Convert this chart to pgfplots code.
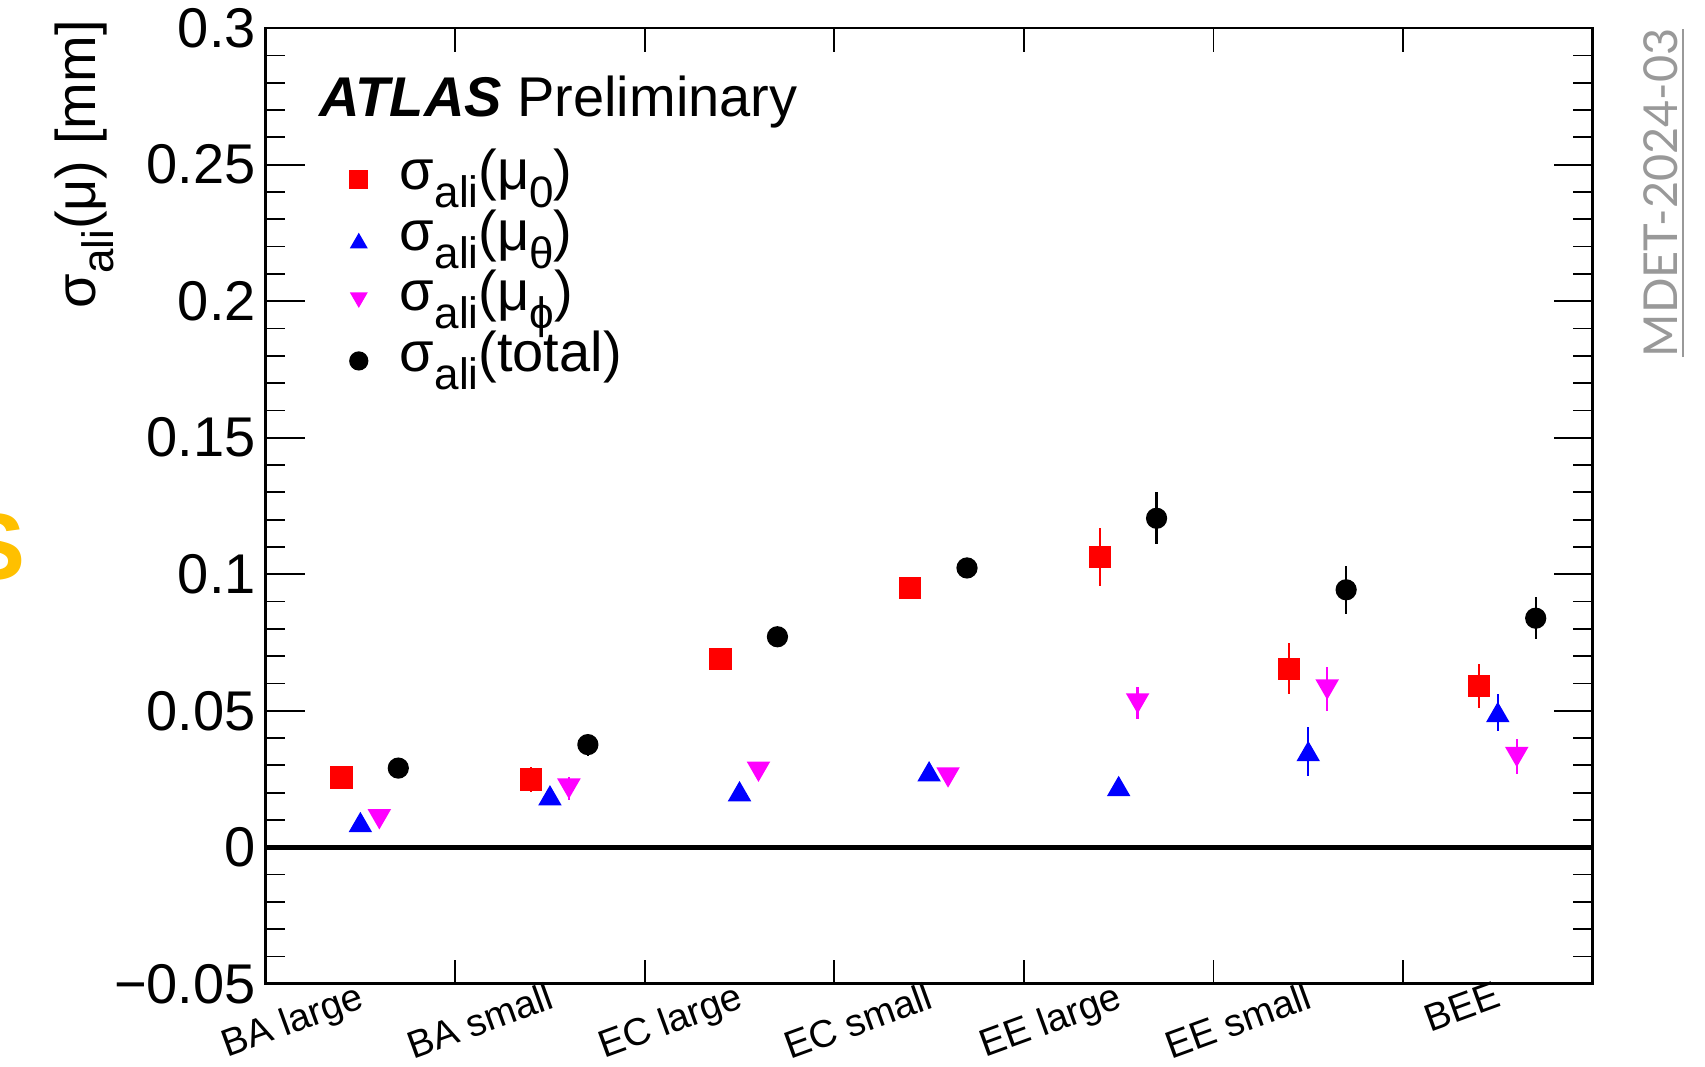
\documentclass[border=0pt]{standalone}
\usepackage{fontspec}
\setmainfont{Liberation Sans}
\newfontfamily\latofont{Lato}
\usepackage{pgfplots}
\pgfplotsset{compat=1.18}
\usepackage{pgfplotstable}
\usetikzlibrary{calc}

\definecolor{atlasyellow}{RGB}{255,192,0}
\definecolor{linkgray}{RGB}{153,153,153}
\definecolor{rootred}{RGB}{255,0,0}
\definecolor{rootblue}{RGB}{0,0,255}
\definecolor{rootmagenta}{RGB}{255,0,255}

\newcommand\sub[1]{\raisebox{-4.5pt}{\fontsize{11}{11}\selectfont #1}}

\pgfplotstableread{
x y e
0.4 0.0255 0.002
1.4 0.0248 0.0045
2.4 0.0690 0.002
3.4 0.0950 0.003
4.4 0.1063 0.0105
5.4 0.0654 0.0094
6.4 0.0591 0.0082
}\dataA
\pgfplotstableread{
x y e
0.5 0.0091 0.001
1.5 0.0189 0.002
2.5 0.0204 0.002
3.5 0.0277 0.002
4.5 0.0223 0.003
5.5 0.0351 0.009
6.5 0.0494 0.0068
}\dataB
\pgfplotstableread{
x y e
0.6 0.0104 0.002
1.6 0.0216 0.0043
2.6 0.0278 0.003
3.6 0.0257 0.002
4.6 0.0528 0.006
5.6 0.0579 0.008
6.6 0.0332 0.0063
}\dataC
\pgfplotstableread{
x y e
0.7 0.0290 0.002
1.7 0.0376 0.004
2.7 0.0771 0.003
3.7 0.1023 0.003
4.7 0.1205 0.0096
5.7 0.0943 0.0088
6.7 0.0839 0.0076
}\dataD

\begin{document}
\begin{tikzpicture}
\begin{axis}[
  scale only axis, width=331.75pt, height=238.9pt,
  xmin=0, xmax=7, ymin=-0.05, ymax=0.3,
  clip mode=individual,
  axis line style={line width=0.65pt},
  tick align=inside, tick pos=both,
  every tick/.style={black, line width=0.45pt},
  major tick length=9.75pt, minor tick length=4.8pt,
  ytick={-0.05,0,0.05,0.1,0.15,0.2,0.25,0.3},
  yticklabels={−0.05,0,0.05,0.1,0.15,0.2,0.25,0.3},
  minor y tick num=4,
  yticklabel style={font=\fontsize{14}{14}\selectfont, inner sep=0pt, xshift=-2.25pt},
  xtick=\empty,
  extra x ticks={1,2,3,4,5,6,7},
  extra x tick labels={BA large,BA small,EC large,EC small,EE large,EE small,BEE},
  extra x tick style={major tick length=6pt,
     xticklabel style={font=\fontsize{9.6}{9.6}\selectfont, inner sep=0pt,
       xshift=-24.6pt, yshift=0.9pt, rotate=20, anchor=north east}},
  ylabel={σ\sub{ali}(μ) [mm]},
  ylabel style={font=\fontsize{14}{14}\selectfont, at={(rel axis cs:-0.1285,1.009)}, anchor=base east, inner sep=0pt},
  legend style={at={(rel axis cs:0.0636,0.873)}, anchor=north west, draw=none, fill=none,
     inner sep=0pt, outer sep=0pt, row sep=0pt, column sep=8.1pt,
     font=\fontsize{14}{14}\selectfont,
     nodes={inner sep=0pt, text height=10.1pt, text depth=5pt}},
  legend cell align=left,
  legend image code/.code={\draw[#1, mark size=2.2pt] plot coordinates {(0pt,0pt)};},
]
\addplot[only marks, mark=square*, mark size=2.6pt, color=rootred,
  error bars/.cd, y dir=both, y explicit, error mark=none,
  error bar style={line width=0.6pt, rootred}]
  table[x=x, y=y, y error=e] {\dataA};
\addlegendentry{σ\sub{ali}(μ\sub{0})}
\addplot[only marks, mark=triangle*, mark size=3pt, color=rootblue, mark options={yshift=-0.75pt},
  error bars/.cd, y dir=both, y explicit, error mark=none,
  error bar style={line width=0.6pt, rootblue}]
  table[x=x, y=y, y error=e] {\dataB};
\addlegendentry{σ\sub{ali}(μ\sub{θ})}
\addplot[only marks, mark=triangle*, mark size=3pt, color=rootmagenta, mark options={yshift=0.75pt, rotate=180},
  error bars/.cd, y dir=both, y explicit, error mark=none,
  error bar style={line width=0.6pt, rootmagenta}]
  table[x=x, y=y, y error=e] {\dataC};
\addlegendentry{σ\sub{ali}(μ\sub{ϕ})}
\addplot[only marks, mark=*, mark size=2.45pt, color=black,
  error bars/.cd, y dir=both, y explicit, error mark=none,
  error bar style={line width=0.6pt, black}]
  table[x=x, y=y, y error=e] {\dataD};
\addlegendentry{σ\sub{ali}(total)}
\draw[line width=1.2pt] (axis cs:0,0) -- (axis cs:7,0);
\node[anchor=base west, inner sep=0pt, font=\fontsize{14}{14}\selectfont] at (rel axis cs:0.0399,0.908) {\textbf{\textit{ATLAS}} Preliminary};
\coordinate (sw) at (rel axis cs:0,0);
\end{axis}
\coordinate (O) at ($(sw)+(-66.4pt,-20.8pt)$);
\node[anchor=base east, inner sep=0pt, text=atlasyellow, font=\fontsize{23.6}{24}\selectfont\bfseries] at ($(O)+(6.5pt,121.75pt)$) {S};
\node[rotate=90, anchor=base, inner sep=0pt, text=linkgray, font=\fontsize{11.7}{12}\latofont] at ($(O)+(419.25pt,218.5pt)$) {\underline{MDET-2024-03}};
\pgfresetboundingbox
\path[use as bounding box] (O) rectangle ++(426.25pt,266.75pt);
\end{tikzpicture}
\end{document}
